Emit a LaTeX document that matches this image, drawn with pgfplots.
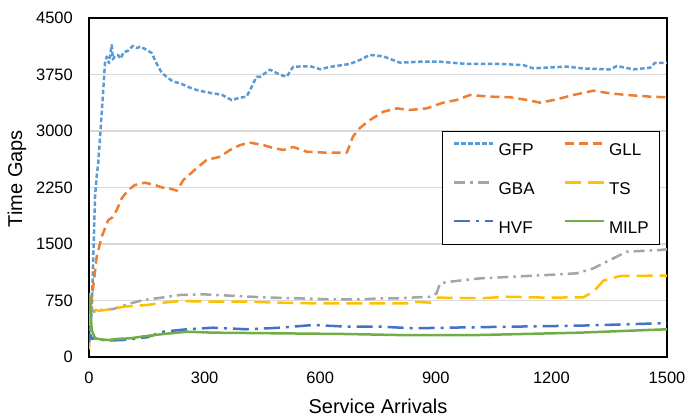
\documentclass[border=0pt]{standalone}
\usepackage{pgfplots}
\pgfplotsset{compat=1.18}
\usepackage{fontspec}
\setmainfont{Liberation Sans}
\definecolor{cGFP}{HTML}{5B9BD5}
\definecolor{cGLL}{HTML}{ED7D31}
\definecolor{cGBA}{HTML}{A5A5A5}
\definecolor{cTS}{HTML}{FFC000}
\definecolor{cHVF}{HTML}{4472C4}
\definecolor{cMILP}{HTML}{70AD47}
\definecolor{gridc}{HTML}{D9D9D9}
\begin{document}
\begin{tikzpicture}
\useasboundingbox (0,0) rectangle (694bp,418bp);
\begin{axis}[
  at={(89bp,61bp)}, anchor=south west,
  scale only axis, width=578bp, height=339bp,
  xmin=0, xmax=1500, ymin=0, ymax=4500,
  xtick={0,300,600,900,1200,1500},
  ytick={0,750,1500,2250,3000,3750,4500},
  ymajorgrids, major grid style={draw=gridc, line width=1.2bp},
  major tick length=0pt,
  axis line style={black, line width=1.6bp},
  /pgf/number format/assume math mode=true,
  /pgf/number format/1000 sep={},
  tick label style={font=\fontsize{16.5bp}{19bp}\selectfont, inner sep=0pt},
  yticklabel style={anchor=east, xshift=-16bp},
  xticklabel style={anchor=north, yshift=-15bp},
  label style={font=\fontsize{20bp}{24bp}\selectfont},
  xlabel={Service Arrivals},
  ylabel={Time Gaps},
  xlabel style={at={(axis description cs:0.5,-0.168)}, anchor=base},
  ylabel style={at={(axis description cs:-0.1246,0.526)}, anchor=center},
  legend columns=2,
  legend cell align=left,
  legend image code/.code={\draw[#1] (0bp,6bp) -- (39bp,6bp);},
  legend style={at={(0.610,0.667)}, anchor=north west, draw=black, line width=1.2bp, fill=white,
    font=\fontsize{17bp}{20bp}\selectfont,
    nodes={inner sep=0pt, text height=12bp, text depth=0pt},
    row sep=25.5bp, column sep=4bp,
    inner xsep=11bp, inner ysep=11bp,
    /tikz/column 2/.style={column sep=29bp}},
  every axis plot/.append style={line width=2.5bp, line join=round},
]
\addplot[cGFP, dash pattern=on 4.5bp off 2.5bp] coordinates {
(0,150) (3,400) (7,584) (11,1300) (15.6,2124) (20,2400) (24,2575) (33,3240) (41.5,3900) (46,3987) (52,3900) (56,4050) (59,4142) (62,3950) (68,4000) (75,4010) (82,3960) (90,4050) (100,4060) (114,4130) (125,4100) (132,4120) (145,4090) (163,4035) (175,3900) (189,3770) (218,3655) (236,3635) (260,3580) (279,3545) (300,3520) (322,3500) (345,3480) (370,3410) (390,3440) (409,3456) (418,3545) (435,3720) (444,3720) (470,3815) (496,3745) (513,3720) (530,3854) (574,3860) (600,3820) (625,3850) (677,3890) (703,3943) (729,4010) (764,3990) (807,3907) (859,3920) (911,3920) (980,3890) (1067,3890) (1127,3875) (1153,3832) (1240,3855) (1283,3830) (1352,3818) (1370,3863) (1413,3818) (1456,3840) (1469,3905) (1500,3905)
};
\addlegendentry{GFP}
\addplot[cGLL, dash pattern=on 9bp off 5bp] coordinates {
(3,500) (7,800) (11,933) (20,1330) (33,1597) (50,1818) (60,1850) (72,1951) (85,2107) (102,2217) (119,2283) (145,2314) (171,2283) (190,2250) (205,2243) (228,2208) (245,2350) (279,2505) (305,2615) (340,2659) (366,2748) (392,2814) (418,2845) (452,2814) (478,2774) (504,2748) (530,2788) (565,2725) (617,2712) (669,2712) (685,2925) (703,3040) (729,3146) (764,3256) (799,3300) (833,3279) (876,3300) (919,3376) (954,3412) (989,3478) (1041,3456) (1093,3448) (1136,3412) (1171,3376) (1214,3420) (1257,3478) (1309,3535) (1352,3500) (1396,3478) (1456,3456) (1500,3448)
};
\addlegendentry{GLL}
\addplot[cGBA, dash pattern=on 11bp off 5bp on 2.5bp off 5bp] coordinates {
(1,700) (5,668) (11,600) (28,624) (63,637) (100,700) (141,757) (176,779) (236,823) (296,832) (366,814) (452,792) (539,779) (625,766) (712,766) (755,779) (799,779) (885,800) (902,845) (911,978) (937,1000) (1015,1044) (1101,1066) (1188,1088) (1266,1111) (1309,1177) (1352,1288) (1396,1398) (1482,1420) (1500,1430)
};
\addlegendentry{GBA}
\addplot[cTS, dash pattern=on 16bp off 7bp] coordinates {
(0,100) (1,500) (3,650) (11,624) (28,615) (63,637) (89,668) (150,690) (193,721) (236,743) (322,734) (409,734) (496,721) (582,712) (669,712) (755,712) (825,712) (842,734) (885,721) (906,788) (1015,779) (1084,800) (1188,788) (1283,792) (1309,867) (1335,1013) (1378,1075) (1482,1080) (1500,1080)
};
\addlegendentry{TS}
\addplot[cHVF, dash pattern=on 16bp off 6bp on 3bp off 6bp] coordinates {
(0,200) (3,300) (8,240) (11,248) (46,217) (89,226) (150,261) (193,336) (254,368) (322,389) (409,368) (496,389) (582,425) (669,403) (755,403) (842,381) (928,389) (1101,403) (1274,416) (1482,447) (1500,447)
};
\addlegendentry{HVF}
\addplot[cMILP] coordinates {
(0,850) (3,700) (7,358) (15.6,250) (28.5,235) (50,225) (75,240) (106,248) (150,279) (193,305) (254,336) (322,323) (496,314) (669,305) (799,292) (1015,292) (1274,323) (1500,368)
};
\addlegendentry{MILP}
\end{axis}
\end{tikzpicture}
\end{document}
